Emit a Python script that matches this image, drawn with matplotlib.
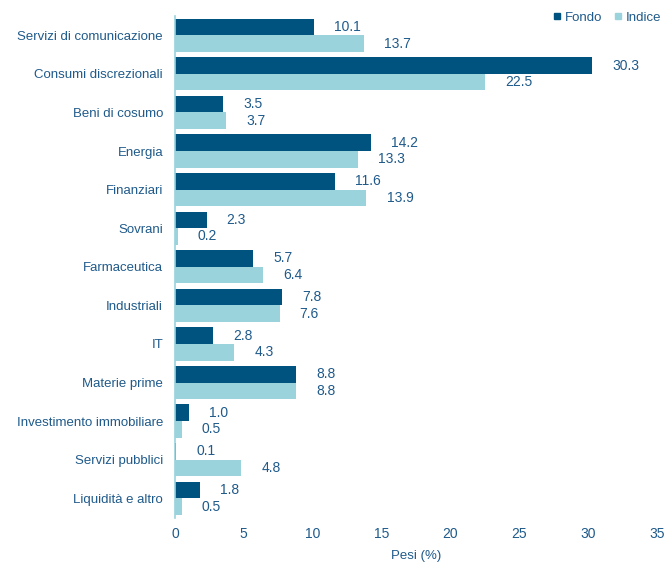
import matplotlib.pyplot as plt
import numpy as np
from matplotlib.lines import Line2D

plt.rcParams['font.family'] = ['Liberation Sans', 'DejaVu Sans']

categories = ["Servizi di comunicazione", "Consumi discrezionali", "Beni di cosumo",
              "Energia", "Finanziari", "Sovrani", "Farmaceutica", "Industriali", "IT",
              "Materie prime", "Investimento immobiliare", "Servizi pubblici",
              "Liquidità e altro"]
fondo = [10.1, 30.3, 3.5, 14.2, 11.6, 2.3, 5.7, 7.8, 2.8, 8.8, 1.0, 0.1, 1.8]
indice = [13.7, 22.5, 3.7, 13.3, 13.9, 0.2, 6.4, 7.6, 4.3, 8.8, 0.5, 4.8, 0.5]
x_ticks = [0, 5, 10, 15, 20, 25, 30, 35]

dark = "#00527F"
light = "#9AD3DC"
txt = "#1F5A8A"

fig = plt.figure(figsize=(6.65, 5.64), dpi=100)
ax = fig.add_axes([0.263, 0.0824, 0.725, 0.8892])

y = np.arange(len(categories))
h = 0.43
ax.barh(y - h / 2, fondo, height=h, color=dark, label="Fondo")
ax.barh(y + h / 2, indice, height=h, color=light, label="Indice")

for yi, v in zip(y - h / 2, fondo):
    ax.annotate(f"{v:.1f}", (v, yi), xytext=(14.5, 0), textcoords="offset points",
                ha="left", va="center", fontsize=10, color=txt)
for yi, v in zip(y + h / 2, indice):
    ax.annotate(f"{v:.1f}", (v, yi), xytext=(14.5, 0), textcoords="offset points",
                ha="left", va="center", fontsize=10, color=txt)

ax.set_xlim(0, 35)
ax.set_ylim(len(categories) - 0.5, -0.5)
ax.set_xticks(x_ticks)
ax.set_yticks(y)
ax.set_yticklabels(categories)
ax.tick_params(axis="both", length=0, colors=txt)
ax.tick_params(axis="y", pad=8.5, labelsize=9.5)
ax.tick_params(axis="x", pad=7, labelsize=10)
ax.set_xlabel("Pesi (%)", fontsize=9.5, color=txt, labelpad=6)

for s in ["top", "right", "bottom"]:
    ax.spines[s].set_visible(False)
ax.spines["left"].set_color(light)
ax.spines["left"].set_linewidth(1.2)

handles = [Line2D([], [], marker="s", ls="", color=dark, markersize=5),
           Line2D([], [], marker="s", ls="", color=light, markersize=5)]
leg = fig.legend(handles, ["Fondo", "Indice"], loc="upper right",
                 bbox_to_anchor=(1.006, 0.993), ncol=2, frameon=False, fontsize=9.5,
                 handlelength=0.6, handletextpad=0.3, columnspacing=0.9,
                 borderaxespad=0.2)
for t in leg.get_texts():
    t.set_color(txt)

fig.savefig("out.png", dpi=100, facecolor="white")
